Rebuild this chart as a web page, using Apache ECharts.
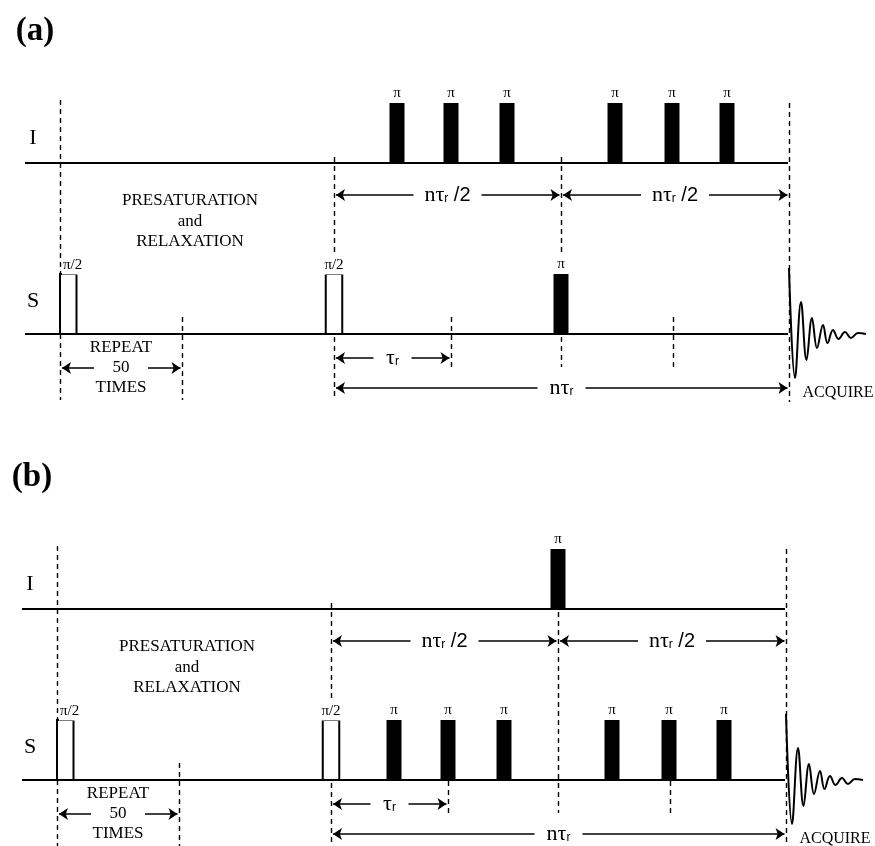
<!DOCTYPE html>
<html>
<head>
<meta charset="utf-8">
<title>Pulse sequences (a) and (b)</title>
<script src="https://cdn.jsdelivr.net/npm/echarts@6/dist/echarts.min.js"></script>
<style>
    html, body { margin: 0; padding: 0; background: #fff; }
    #chart { width: 875px; height: 846px; }
</style>
</head>
<body>
<div id="chart"></div>
<script>
// time marks along the sequence (same for both panels)
var presatStart = 60;
var repeatEnd = 182;
var mixStart = 334;
var midPoint = 561;
var acqStart = 789;
var rotorMarks = [451, 673];
var piTrain = [397, 451, 507, 615, 672, 727];

// channels and their baselines
var channels = ["I", "S"];
var channelY = [163, 334];
var pulseHeight = 60;

// FID: time after acquire start, amplitude
var fidTime = [0, 6, 12, 17.5, 23, 28, 34, 38.5, 44, 49.5, 56, 62, 69, 77];
var fidAmp = [66, -44, 32, -26, 16, -14, 9, -9, 4, -5, 2, -4, 1, 0];

var panelLabels = ["(a)", "(b)"];

// pulses: [time, channel (0 I, 1 S), kind (0 pi, 1 pi/2), starts at time (1) or centred (0)]
var pulsesA = [[presatStart, 1, 1, 1], [mixStart, 1, 1, 0], [midPoint, 1, 0, 0]]
    .concat(piTrain.map(function(t) { return [t, 0, 0, 0]; }));
var pulsesB = [[presatStart, 1, 1, 1], [mixStart, 1, 1, 0], [midPoint, 0, 0, 0]]
    .concat(piTrain.map(function(t) { return [t, 1, 0, 0]; }));
var panelPulses = [pulsesA, pulsesB];

// dashed guides: [time, from, to]
var guides = [
    [presatStart, 100, 400],
    [mixStart, 157, 400],
    [repeatEnd, 317, 400],
    [rotorMarks[0], 317, 367],
    [midPoint, 157, 367],
    [rotorMarks[1], 317, 367],
    [acqStart, 103, 402]
];

// spans with arrows: [from, to, level, label]
var spans = [
    [presatStart, repeatEnd, 368, "repeat"],
    [mixStart, midPoint, 195, "half"],
    [midPoint, acqStart, 195, "half"],
    [mixStart, rotorMarks[0], 358, "tau"],
    [mixStart, acqStart, 388, "ntau"]
];

var serif = '"Liberation Serif", "DejaVu Serif", serif';
var sans = '"Liberation Sans", Arial, sans-serif';

var spanText = {
    repeat: { text: "50", gap: 27 },
    half: { text: "{n|nτ}{r|r}{s| /2}", gap: 34 },
    tau: { text: "{n|τ}{r|r}", gap: 19 },
    ntau: { text: "{n|nτ}{r|r}", gap: 24 }
};
var rich = {
    n: { font: "22px " + serif, fill: "#000" },
    r: { font: "12px " + sans, fill: "#000", verticalAlign: "bottom", padding: [0, 0, 1, 0] },
    s: { font: "20px " + sans, fill: "#000" }
};

function panelItems(p) {
    var items = [
        { x: 35, y: 31, text: panelLabels[p], font: "bold 33px " + serif },
        { x: 33, y: channelY[0] - 25, text: channels[0], font: "22px " + serif },
        { x: 33, y: channelY[1] - 33, text: channels[1], font: "22px " + serif },
        { x: 190, y: 201, text: "PRESATURATION", font: "17px " + serif },
        { x: 190, y: 222, text: "and", font: "17px " + serif },
        { x: 190, y: 242, text: "RELAXATION", font: "17px " + serif },
        { x: 121, y: 348, text: "REPEAT", font: "17px " + serif },
        { x: 121, y: 388, text: "TIMES", font: "17px " + serif },
        { x: 838, y: 393, text: "ACQUIRE", font: "16px " + serif }
    ];
    spans.forEach(function(s) {
        var st = spanText[s[3]];
        items.push({ x: (s[0] + s[1]) / 2, y: s[2], text: st.text, font: "17px " + serif, rich: rich });
    });
    return items;
}

function arrowSegments() {
    var segs = [];
    spans.forEach(function(s) {
        var c = (s[0] + s[1]) / 2;
        var gap = spanText[s[3]].gap;
        segs.push({ coords: [[c - gap, s[2]], [s[0] + 2, s[2]]] });
        segs.push({ coords: [[c + gap, s[2]], [s[1] - 1.5, s[2]]] });
    });
    return segs;
}

function renderPulse(params, api) {
    var t = api.value(0);
    var ch = api.value(1);
    var kind = api.value(2);
    var startAligned = api.value(3) === 1;
    var w = kind === 1 ? 16.5 : 15;
    var x0 = startAligned ? t : t - w / 2;
    var base = channelY[ch];
    var bl = api.coord([x0, base]);
    var tr = api.coord([x0 + w, base - pulseHeight]);
    var lab = api.coord([startAligned ? x0 + 2 : x0 + w / 2, base - pulseHeight - (kind === 1 ? 9 : 10)]);
    return {
        type: "group",
        children: [
            {
                type: "rect",
                shape: { x: bl[0], y: tr[1], width: tr[0] - bl[0], height: bl[1] - tr[1] },
                style: kind === 1 ? { fill: "#fff", stroke: "#000", lineWidth: 2 } : { fill: "#000" }
            },
            {
                type: "text",
                x: lab[0],
                y: lab[1],
                style: {
                    text: kind === 1 ? "π/2" : "π",
                    font: "15px " + serif,
                    fill: "#000",
                    align: startAligned ? "left" : "center",
                    verticalAlign: "middle",
                    backgroundColor: "#fff",
                    padding: [2, 1]
                }
            }
        ]
    };
}

var chartInstance = echarts.init(document.getElementById("chart"));

// panel (b) sits 446px lower and 3px further left than panel (a)
var grids = [
    { left: 0, right: 0, top: 0, height: 410 },
    { left: 0, right: 0, top: 446, height: 400 }
];
var xRange = [[0, 875], [3, 878]];
var yRange = [410, 400];
var xAxes = [];
var yAxes = [];
var series = [];

[0, 1].forEach(function(p) {
    xAxes.push({ type: "value", gridIndex: p, min: xRange[p][0], max: xRange[p][1], show: false });
    yAxes.push({ type: "value", gridIndex: p, min: 0, max: yRange[p], inverse: true, show: false });

    series.push({
        type: "lines",
        coordinateSystem: "cartesian2d",
        xAxisIndex: p,
        yAxisIndex: p,
        z: 1,
        silent: true,
        symbol: "none",
        lineStyle: { color: "#000", width: 1.4, opacity: 1, type: [5, 4], curveness: 0 },
        data: guides.map(function(g) {
            return { coords: [[g[0], g[1]], [g[0], g[2]]] };
        })
    });
    series.push({
        type: "lines",
        coordinateSystem: "cartesian2d",
        xAxisIndex: p,
        yAxisIndex: p,
        z: 2,
        silent: true,
        symbol: "none",
        lineStyle: { color: "#000", width: 2, opacity: 1, curveness: 0 },
        data: channelY.map(function(y) {
            return { coords: [[25, y], [acqStart - 1, y]] };
        })
    });
    series.push({
        type: "lines",
        coordinateSystem: "cartesian2d",
        xAxisIndex: p,
        yAxisIndex: p,
        z: 2,
        silent: true,
        symbol: ["none", "arrow"],
        symbolSize: 9,
        lineStyle: { color: "#000", width: 1.5, opacity: 1, curveness: 0 },
        data: arrowSegments()
    });
    series.push({
        type: "line",
        xAxisIndex: p,
        yAxisIndex: p,
        z: 3,
        silent: true,
        clip: false,
        smooth: 0.4,
        showSymbol: false,
        lineStyle: { color: "#000", width: 2 },
        data: fidTime.map(function(t, i) {
            return [acqStart + t, channelY[1] - fidAmp[i]];
        })
    });
    series.push({
        type: "custom",
        coordinateSystem: "cartesian2d",
        xAxisIndex: p,
        yAxisIndex: p,
        z: 4,
        silent: true,
        renderItem: renderPulse,
        data: panelPulses[p]
    });

    var items = panelItems(p);
    series.push({
        type: "custom",
        coordinateSystem: "cartesian2d",
        xAxisIndex: p,
        yAxisIndex: p,
        z: 5,
        silent: true,
        renderItem: function(params, api) {
            var it = items[api.value(2)];
            var c = api.coord([api.value(0), api.value(1)]);
            return {
                type: "text",
                x: c[0],
                y: c[1],
                style: {
                    text: it.text,
                    font: it.font,
                    fill: "#000",
                    align: "center",
                    verticalAlign: "middle",
                    rich: it.rich
                }
            };
        },
        data: items.map(function(it, i) {
            return [it.x, it.y, i];
        })
    });
});

var option = {
    backgroundColor: "#fff",
    animation: false,
    grid: grids,
    xAxis: xAxes,
    yAxis: yAxes,
    series: series
};
chartInstance.setOption(option);
window.addEventListener("resize", chartInstance.resize);
</script>
</body>
</html>
